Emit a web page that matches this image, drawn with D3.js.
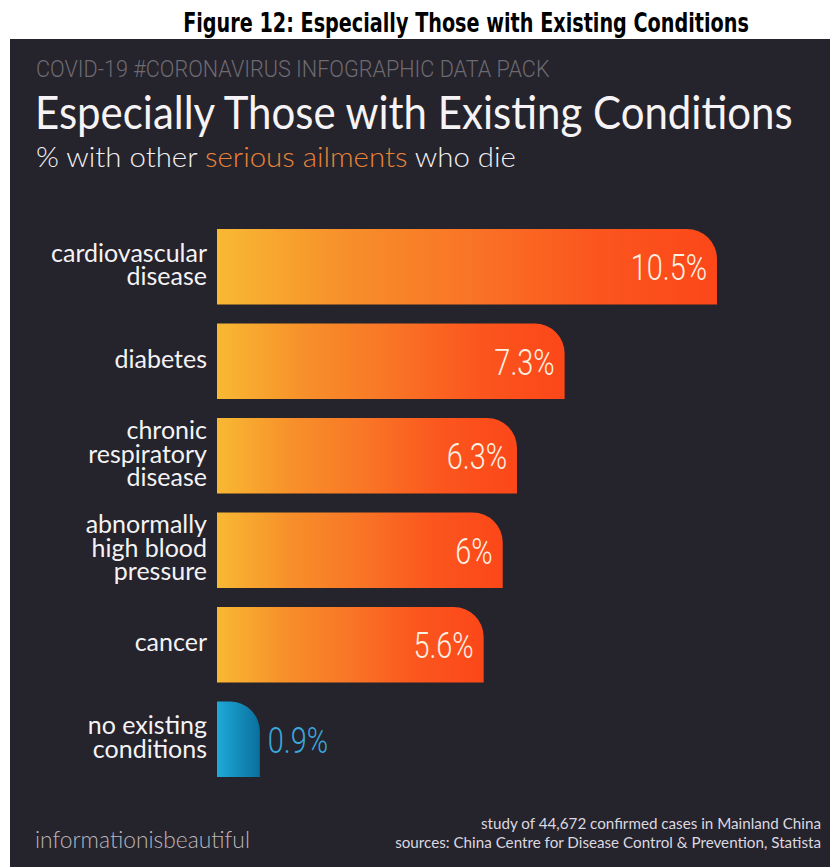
<!DOCTYPE html>
<html><head><meta charset="utf-8">
<script src="https://cdn.jsdelivr.net/npm/d3@7"></script>
<style>
html,body{margin:0;padding:0;background:#fff;}
svg{display:block;}
</style></head>
<body>
<svg id="chart" width="830" height="867"></svg>
<script>
const categories = [
  ["cardiovascular","disease"],
  ["diabetes"],
  ["chronic","respiratory","disease"],
  ["abnormally","high blood","pressure"],
  ["cancer"],
  ["no existing","conditions"]
];
const values = [10.5, 7.3, 6.3, 6, 5.6, 0.9];
const valueLabels = ["10.5%","7.3%","6.3%","6%","5.6%","0.9%"];
const isBaseline = [false,false,false,false,false,true];

const svg = d3.select("#chart");
const W = 830, H = 867;

// place a text at (x,y) and squeeze/stretch it horizontally to a target width
function fitText(parent, x, y, width, anchor){
  const gg = parent.append("g");
  const t = gg.append("text").attr("text-anchor", anchor || "start");
  return {t, fit(){
    const n = t.node().getComputedTextLength();
    const s = width / n;
    gg.attr("transform", `translate(${x},${y}) scale(${s},1)`);
    return t;
  }};
}

const defs = svg.append("defs");
const og = defs.append("linearGradient").attr("id","orangeGrad").attr("x1","0").attr("x2","1").attr("y1","0").attr("y2","0");
[["0%","#f8b933"],["25%","#f7902a"],["50%","#f97526"],["75%","#fb561e"],["100%","#fc4719"]].forEach(([o,c])=>og.append("stop").attr("offset",o).attr("stop-color",c));
const bg = defs.append("linearGradient").attr("id","blueGrad").attr("x1","0").attr("x2","1").attr("y1","0").attr("y2","0");
[["0%","#1eaad9"],["100%","#0a6f9c"]].forEach(([o,c])=>bg.append("stop").attr("offset",o).attr("stop-color",c));

// Figure caption
{
  const f = fitText(svg, 466, 32, 566, "middle");
  f.t.attr("font-family","'DejaVu Sans Condensed','Liberation Sans',Arial,sans-serif")
    .attr("font-weight","bold").attr("font-size",26).attr("fill","#000")
    .text("Figure 12: Especially Those with Existing Conditions");
  f.fit();
}

// Panel
svg.append("rect").attr("x",10).attr("y",39).attr("width",W-10).attr("height",H-39).attr("fill","#25232b");

// Header texts
{
  const f = fitText(svg, 36, 77, 514);
  f.t.attr("font-family","Roboto,sans-serif").attr("font-weight",300)
    .attr("font-size",24).attr("fill","#6d6a72")
    .text("COVID-19 #CORONAVIRUS INFOGRAPHIC DATA PACK");
  f.fit();
}
{
  const f = fitText(svg, 35, 129, 758);
  f.t.attr("font-family","Lato,'Noto Sans',sans-serif").attr("font-weight",400)
    .attr("font-size",47).attr("fill","#f5f3f5")
    .text("Especially Those with Existing Conditions");
  f.fit();
}
{
  const f = fitText(svg, 36, 167, 480);
  f.t.attr("font-family","Lato,'Noto Sans',sans-serif").attr("font-weight",300)
    .attr("font-size",27).attr("fill","#f2f0f2");
  f.t.append("tspan").text("% with other ");
  f.t.append("tspan").attr("fill","#ea8439").text("serious ailments");
  f.t.append("tspan").text(" who die");
  f.fit();
}

// Scales
const x = d3.scaleLinear().domain([0, 10.5]).range([217, 717]);
const y = d3.scaleBand().domain(d3.range(values.length)).range([229, 777]).paddingInner(0.2).paddingOuter(0);

function barPath(v, i){
  const x0 = x(0), x1 = x(v), y0 = y(i), h = y.bandwidth();
  const r = Math.min(30, x1 - x0);
  return `M${x0},${y0}H${x1-r}A${r},${r} 0 0 1 ${x1},${y0+r}V${y0+h}H${x0}Z`;
}

const g = svg.append("g");
const rows = g.selectAll("g.row").data(values).join("g").attr("class","row");

rows.append("path").attr("d",(d,i)=>barPath(d,i))
  .attr("fill",(d,i)=>isBaseline[i] ? "url(#blueGrad)" : "url(#orangeGrad)");

// Value labels (horizontally condensed)
rows.append("g")
  .attr("transform",(d,i)=>`translate(${isBaseline[i] ? x(d)+8 : x(d)-10},${y(i)+y.bandwidth()/2}) scale(0.78,1)`)
  .append("text")
  .attr("dy","0.36em")
  .attr("text-anchor",(d,i)=> isBaseline[i] ? "start" : "end")
  .attr("font-family","Roboto,sans-serif").attr("font-weight",300)
  .attr("font-size",37)
  .attr("fill",(d,i)=> isBaseline[i] ? "#3ba8dc" : "#fdf1e4")
  .text((d,i)=>valueLabels[i]);

// Category labels
const lh = 23.5;
rows.append("text")
  .attr("text-anchor","end")
  .attr("font-family","Lato,'Noto Sans',sans-serif")
  .attr("font-size",25).attr("fill","#f4f2f4")
  .each(function(d,i){
    const lines = categories[i];
    const cy = y(i)+y.bandwidth()/2 - 2;
    const t = d3.select(this);
    lines.forEach((ln,k)=>{
      t.append("tspan").attr("x",207)
       .attr("y", cy + (k-(lines.length-1)/2)*lh)
       .attr("dy","0.35em").text(ln);
    });
  });

// Footer
{
  const f = fitText(svg, 35, 848, 215);
  f.t.attr("font-family","Lato,'Noto Sans',sans-serif").attr("font-weight",300)
    .attr("font-size",23).attr("fill","#b9b5bd")
    .text("informationisbeautiful");
  f.fit();
}

svg.append("text").attr("x",821).attr("y",829).attr("text-anchor","end")
  .attr("font-family","Lato,'Noto Sans',sans-serif").attr("font-size",15.2).attr("fill","#dcd8e0")
  .text("study of 44,672 confirmed cases in Mainland China");
svg.append("text").attr("x",821).attr("y",848).attr("text-anchor","end")
  .attr("font-family","Lato,'Noto Sans',sans-serif").attr("font-size",15.2).attr("fill","#dcd8e0")
  .text("sources: China Centre for Disease Control & Prevention, Statista");
</script>
</body></html>
